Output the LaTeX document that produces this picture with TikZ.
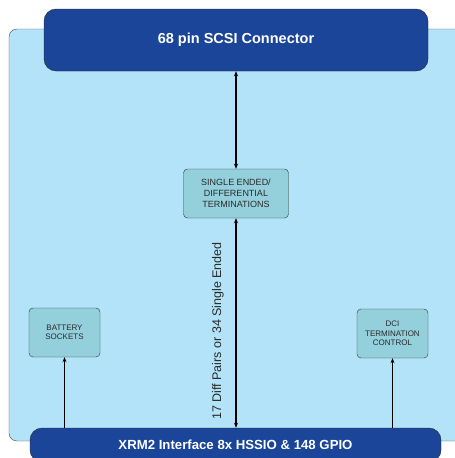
\documentclass[tikz,border=0pt]{standalone}
\usepackage{fontspec}
\setmainfont{Liberation Sans}
\usetikzlibrary{arrows.meta}
\definecolor{bgblue}{HTML}{B2E3F8}
\definecolor{busblue}{HTML}{1B4599}
\definecolor{tealbox}{HTML}{93D0DC}
\definecolor{boxtext}{HTML}{2A2A2A}
\begin{document}
\begin{tikzpicture}[x=1pt,y=-1pt,
  bus/.style={draw=black!85,fill=busblue,rounded corners=12pt,text=white,font=\bfseries\fontsize{13.2}{15}\selectfont},
  block/.style={draw=black!80,fill=tealbox,rounded corners=4pt,align=center,text=boxtext},
  link/.style={line width=1.2pt,{Stealth[length=5pt,width=4pt]}-{Stealth[length=5pt,width=4pt]}},
  feed/.style={line width=1.2pt,-{Stealth[length=5pt,width=4pt]}}]
\clip (0,0) rectangle (455,458);
% board outline
\draw[fill=bgblue,draw=black!70,rounded corners=8pt] (9,29) rectangle (480,441);
\node[bus,minimum width=384pt,minimum height=62pt,font=\bfseries\fontsize{14.5}{16}\selectfont] (scsi) at (236,40) {68 pin SCSI Connector};
\node[bus,minimum width=411pt,minimum height=34pt] (xrm) at (235.5,445) {XRM2 Interface 8x HSSIO \& 148 GPIO};
\node[block,minimum width=105pt,minimum height=49pt,font=\fontsize{9}{11}\selectfont] (term) at (236,193.5) {SINGLE ENDED/\\DIFFERENTIAL\\TERMINATIONS};
\node[block,minimum width=71pt,minimum height=49pt,font=\fontsize{8}{9.5}\selectfont] (bat) at (64.5,332.5) {BATTERY\\SOCKETS};
\node[block,minimum width=71pt,minimum height=49pt,font=\fontsize{8}{9.5}\selectfont] (dci) at (392.5,333.5) {DCI\\TERMINATION\\CONTROL};
\node[rotate=90,font=\fontsize{12.5}{14}\selectfont,text=boxtext] (pairs) at (218,331) {17 Diff Pairs or 34 Single Ended};
% connections
\draw[link] (scsi) -- (term);
\draw[link] (term) -- (term |- xrm.north);
\draw[feed] (bat |- xrm.north) -- (bat);
\draw[feed] (dci |- xrm.north) -- (dci);
\end{tikzpicture}
\end{document}
